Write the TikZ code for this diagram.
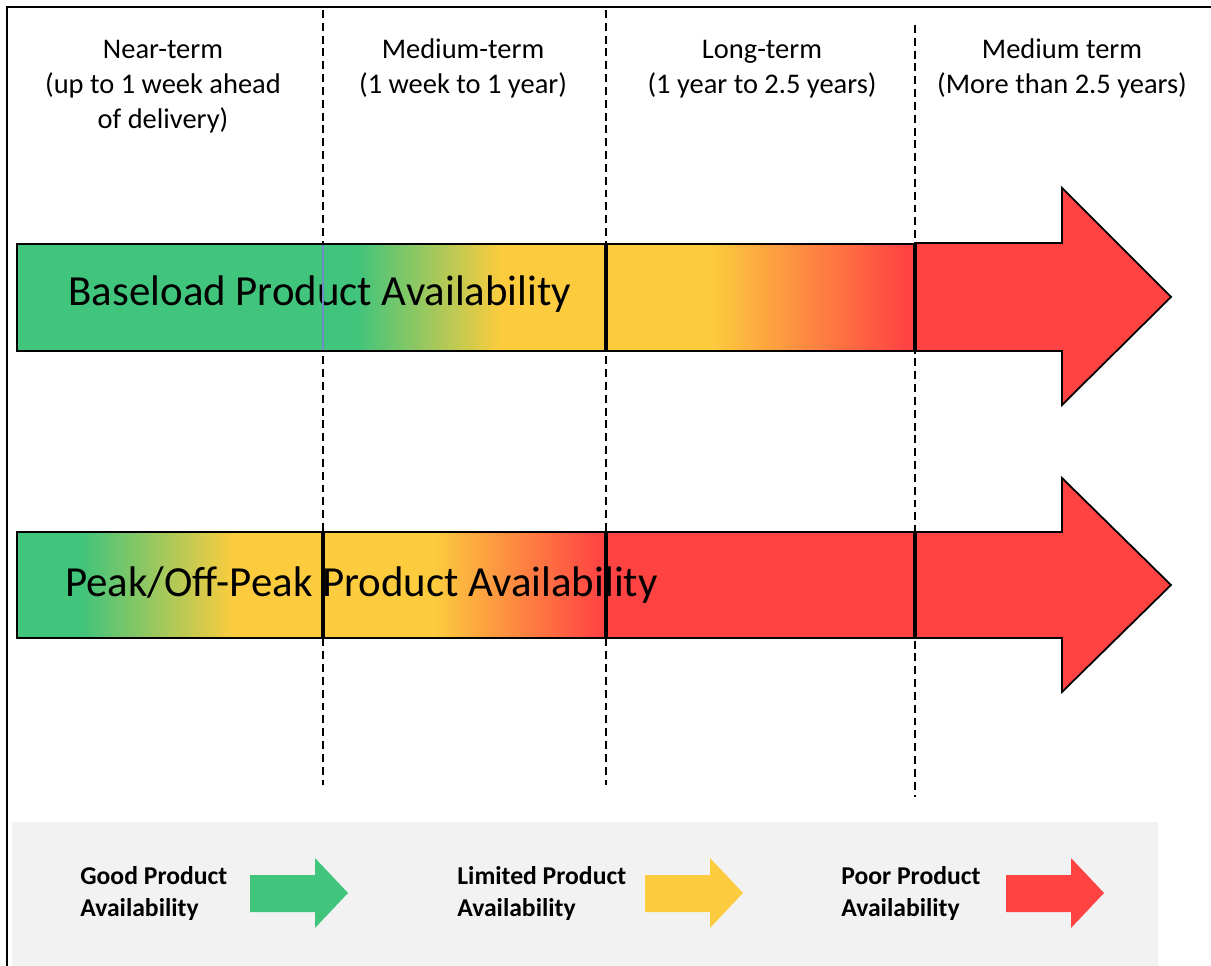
\documentclass[tikz,border=0pt]{standalone}
\usepackage{fontspec}
\setmainfont{Carlito}
\usepackage{tikz}
\definecolor{avgreen}{RGB}{65,196,124}
\definecolor{avyellow}{RGB}{252,204,62}
\definecolor{avred}{RGB}{255,67,67}
\definecolor{lggray}{RGB}{242,242,242}
\definecolor{seamblue}{RGB}{110,140,200}
% colour runs across the bar sections (path spans 25bp to 75bp)
\pgfdeclarehorizontalshading{baseMid}{100bp}{color(0bp)=(avgreen); color(31bp)=(avgreen); color(56.5bp)=(avyellow); color(100bp)=(avyellow)}
\pgfdeclarehorizontalshading{baseLong}{100bp}{color(0bp)=(avyellow); color(42bp)=(avyellow); color(73.5bp)=(avred); color(100bp)=(avred)}
\pgfdeclarehorizontalshading{peakNear}{100bp}{color(0bp)=(avgreen); color(35.5bp)=(avgreen); color(60.5bp)=(avyellow); color(100bp)=(avyellow)}
\pgfdeclarehorizontalshading{peakMid}{100bp}{color(0bp)=(avyellow); color(44.5bp)=(avyellow); color(74bp)=(avred); color(100bp)=(avred)}

\begin{document}
\begin{tikzpicture}[x=0.02cm, y=-0.02cm,
      hdr/.style={anchor=north, inner sep=0pt, align=center,
                  font=\fontsize{16.2}{19.9}\selectfont},
      bartext/.style={anchor=base, inner sep=0pt, font=\fontsize{24.4}{29}\selectfont},
      lgd/.style={anchor=north west, inner sep=0pt, align=left,
                  font=\bfseries\fontsize{14.6}{18.2}\selectfont},
      part/.style={draw=black, line width=1pt},
      sep/.style={line width=2.1pt},
      term/.style={dashed, dash pattern=on 4.5pt off 2.8pt, line width=0.85pt}
    ]
    \useasboundingbox (0,0) rectangle (1211,966);
    \draw[line width=1.1pt] (7,966) -- (7,7) -- (1211,7);

    \foreach \dx/\dtop/\dbot in {323/10/785, 606/10/785, 915/25/797}
      \draw[term] (\dx,\dtop) -- (\dx,\dbot);

    \node[hdr] (hdnear) at (163,34) {\strut Near-term\\(up to 1 week ahead\\of delivery)};
    \node[hdr] (hdmid) at (463,34) {\strut Medium-term\\(1 week to 1 year)};
    \node[hdr] (hdlong) at (762,34) {\strut Long-term\\(1 year to 2.5 years)};
    \node[hdr] (hdfar) at (1062,34) {\strut Medium term\\(More than 2.5 years)};

    % baseload bar
    \filldraw[fill=avgreen, part] (17,244) rectangle (323,351);
    \shadedraw[shading=baseMid, part] (323,244) rectangle (606,351);
    \shadedraw[shading=baseLong, part] (606,244) rectangle (915,351);
    \filldraw[fill=avred, part] (915,243) -- (1062,243) -- (1062,188) -- (1171,297)
      -- (1062,405) -- (1062,351) -- (915,351) -- cycle;
    \node[bartext] (basetxt) at (320,305.6) {Baseload Product Availability};
    \draw[seamblue, line width=0.7pt] (323,245) -- (323,350);
    \draw[sep] (606,244) -- (606,351);
    \draw[sep] (915,244) -- (915,351);

    % peak / off-peak bar
    \shadedraw[shading=peakNear, part] (17,532) rectangle (323,638);
    \shadedraw[shading=peakMid, part] (323,532) rectangle (606,638);
    \filldraw[fill=avred, part] (606,532) rectangle (915,638);
    \filldraw[fill=avred, part] (915,532) -- (1062,532) -- (1062,478) -- (1171,585)
      -- (1062,692) -- (1062,638) -- (915,638) -- cycle;
    \node[bartext] (peaktxt) at (361.5,596) {Peak/Off-Peak Product Availability};
    \draw[sep] (323,532) -- (323,638);
    \draw[sep] (606,532) -- (606,638);
    \draw[sep] (915,532) -- (915,638);

    % legend
    \fill[lggray] (12,822) rectangle (1158,966);
    \foreach \lx/\lc in {250/avgreen, 645/avyellow, 1006/avred}
      \fill[\lc] (\lx,875) -- (\lx+65,875) -- (\lx+65,858) -- (\lx+98,893)
        -- (\lx+65,928) -- (\lx+65,912) -- (\lx,912) -- cycle;
    \node[lgd] (lggood) at (80,861.5) {\strut Good Product\\Availability};
    \node[lgd] (lglimited) at (457,861.5) {\strut Limited Product\\Availability};
    \node[lgd] (lgpoor) at (841,861.5) {\strut Poor Product\\Availability};
  \end{tikzpicture}
\end{document}
